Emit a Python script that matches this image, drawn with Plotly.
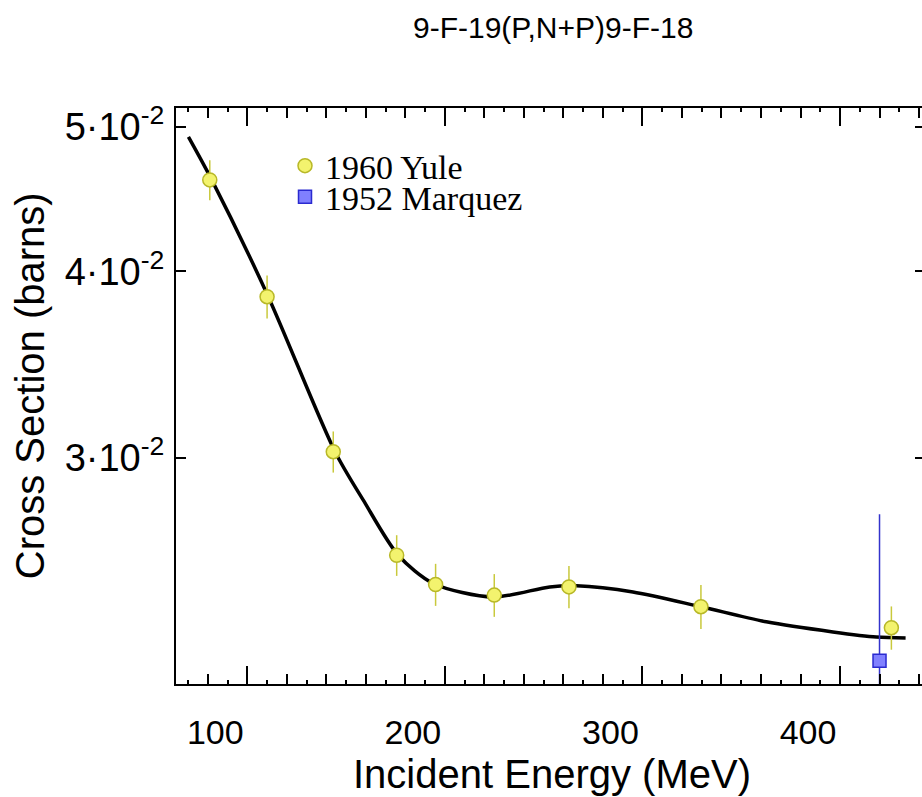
import plotly.graph_objects as go
import numpy as np

# ---- data ----
yule_energy = [81, 110, 143.5, 175.6, 195.3, 225, 262.8, 329.6, 426]
yule_xs = [0.04606, 0.03847, 0.03029, 0.02582, 0.02468, 0.02428, 0.02459, 0.02385, 0.02309]
yule_err = [0.00142, 0.00128, 0.00096, 0.00081, 0.00080, 0.00080, 0.00080, 0.00081, 0.00077]

marquez_energy = [420]
marquez_xs = [0.02194]
marquez_err = [0.00556]

fit_energy = [70.2, 82.0, 110.6, 144.4, 158.7, 176.4, 194.1, 224.4,
              253.1, 266.6, 295.2, 329.5, 362.7, 396.4, 418.4, 433.2]
fit_xs = [0.04922, 0.04606, 0.03847, 0.03029, 0.02811, 0.02582, 0.02472, 0.02421,
          0.02459, 0.02463, 0.02440, 0.02385, 0.02330, 0.02294, 0.02276, 0.02273]

x_tick_vals = [100, 200, 300, 400]
x_tick_text = ["100", "200", "300", "400"]
x_mid_ticks = [80, 120, 140, 160, 180, 220, 240, 260, 280, 320, 340, 360, 380, 420, 440]
y_tick_vals = [0.03, 0.04, 0.05]
y_tick_text = ["3·10<sup>-2</sup>", "4·10<sup>-2</sup>", "5·10<sup>-2</sup>"]

title_text = "9-F-19(P,N+P)9-F-18"
x_title = "Incident Energy (MeV)"
y_title = "Cross Section (barns)"

x_range = [63.9, 441.5]
y_range = [np.log10(0.02117), np.log10(0.05146)]

SANS = "Liberation Sans, Arial, sans-serif"
SERIF = "Liberation Serif, Times New Roman, serif"

fig = go.Figure()

fig.add_trace(go.Scatter(
    x=fit_energy, y=fit_xs, mode="lines", line=dict(color="black", width=3.5, shape="spline", smoothing=0.8),
    showlegend=False, hoverinfo="skip"))

fig.add_trace(go.Scatter(
    x=yule_energy, y=yule_xs, mode="markers", name="1960 Yule", legend="legend",
    marker=dict(symbol="circle", size=14, color="#f3f36e", line=dict(color="#b8b828", width=1.5)),
    error_y=dict(type="data", array=yule_err, visible=True, color="#c9c93c", thickness=1.5, width=0)))

fig.add_trace(go.Scatter(
    x=marquez_energy, y=marquez_xs, mode="markers", name="1952 Marquez", legend="legend2",
    marker=dict(symbol="square", size=13, color="#8080ff", line=dict(color="#2a2ad0", width=1.5)),
    error_y=dict(type="data", array=marquez_err, visible=True, color="#3333cc", thickness=1.5, width=0)))

# invisible traces on overlay axes (medium x ticks, right-hand y ticks)
fig.add_trace(go.Scatter(x=[x_range[0]], y=[0.03], xaxis="x2", mode="markers",
                         marker=dict(opacity=0), showlegend=False, hoverinfo="skip"))
fig.add_trace(go.Scatter(x=[x_range[0]], y=[0.03], yaxis="y2", mode="markers",
                         marker=dict(opacity=0), showlegend=False, hoverinfo="skip"))

legend_font = dict(family=SERIF, size=34, color="black")

fig.update_layout(
    width=922, height=797,
    margin=dict(l=176, r=0, t=108, b=113),
    paper_bgcolor="white", plot_bgcolor="white",
    title=dict(text=title_text, x=0.6, xref="container", xanchor="center",
               y=1 - 27 / 797, yref="container", yanchor="middle",
               font=dict(family=SANS, size=30, color="black")),
    xaxis=dict(range=x_range, showgrid=False, zeroline=False,
               showline=True, linecolor="black", linewidth=2, mirror="ticks",
               ticks="inside", ticklen=18, tickwidth=2, tickcolor="black",
               tickmode="array", tickvals=x_tick_vals, ticktext=x_tick_text,
               ticklabelshift=-32, ticklabelstandoff=17,
               tickfont=dict(family=SANS, size=34, color="black")),
    xaxis2=dict(range=x_range, overlaying="x", anchor="y", side="bottom", showgrid=False, zeroline=False,
                showline=False, mirror="ticks", ticks="inside", ticklen=10, tickwidth=2, tickcolor="black",
                tickmode="array", tickvals=x_mid_ticks, showticklabels=False,
                minor=dict(dtick=10, tick0=0, ticks="inside", ticklen=4, tickwidth=2, tickcolor="black")),
    yaxis=dict(type="log", range=y_range, showgrid=False, zeroline=False,
               showline=True, linecolor="black", linewidth=2, mirror=False,
               ticks="inside", ticklen=10, tickwidth=2, tickcolor="black",
               tickmode="array", tickvals=y_tick_vals, ticktext=y_tick_text,
               ticklabelstandoff=2,
               tickfont=dict(family=SANS, size=38, color="black")),
    yaxis2=dict(type="log", range=y_range, overlaying="y", side="right", anchor="x",
                showgrid=False, zeroline=False, showline=False,
                ticks="inside", ticklen=7, tickwidth=2, tickcolor="black",
                tickmode="array", tickvals=y_tick_vals, showticklabels=False),
    legend=dict(x=(285 - 176) / 746, y=(683.6 - 166) / 575.6, xanchor="left", yanchor="middle",
                bgcolor="rgba(0,0,0,0)", font=legend_font),
    legend2=dict(x=(285 - 176) / 746, y=(683.6 - 197) / 575.6, xanchor="left", yanchor="middle",
                 bgcolor="rgba(0,0,0,0)", font=legend_font),
    annotations=[
        dict(text=x_title, xref="paper", yref="paper", x=0.504, y=(683.6 - 774) / 575.6,
             xanchor="center", yanchor="middle", showarrow=False,
             font=dict(family=SANS, size=40, color="black")),
        dict(text=y_title, xref="paper", yref="paper", x=(30 - 176) / 746, y=(683.6 - 386) / 575.6,
             xanchor="center", yanchor="middle", textangle=-90, showarrow=False,
             font=dict(family=SANS, size=40, color="black")),
    ],
)

fig.write_html("out.html")
